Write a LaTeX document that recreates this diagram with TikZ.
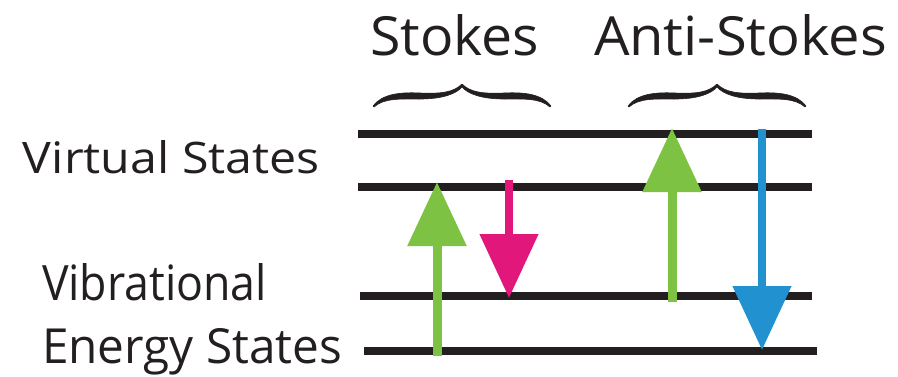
\documentclass[tikz,border=0pt]{standalone}
\usepackage{graphicx}
\usepackage{fontspec}
\setmainfont{Open Sans}
\usetikzlibrary{arrows.meta}
\definecolor{lvl}{HTML}{231F20}
\definecolor{agreen}{HTML}{7DC242}
\definecolor{amag}{HTML}{E2177C}
\definecolor{ablue}{HTML}{2291D0}
\tikzset{
  level/.style={draw=lvl, line width=8pt},
  lbl/.style={anchor=base west, inner sep=0pt, outer sep=0pt, text=lvl},
  photon/.style={line width=9pt, -{Triangle[width=57pt,length=64pt]}},
  bracefill/.style={fill=lvl, draw=lvl, line width=0.6pt, line join=round}
}
\newcommand{\fitbox}[3]{\resizebox{#1pt}{#2pt}{#3}}
\newcommand{\mybrace}[1]{%
  \filldraw[bracefill, shift={(#1,84)}]
    (-89,22) .. controls (-80,10) and (-62,8) .. (-42,9)
    .. controls (-20,10) and (-8,8) .. (0,0)
    .. controls (8,8) and (20,10) .. (42,9)
    .. controls (62,8) and (80,10) .. (89,22)
    -- (88,23)
    .. controls (78,14) and (62,15) .. (42,15)
    .. controls (20,15) and (6,10) .. (0,3)
    .. controls (-6,10) and (-20,15) .. (-42,15)
    .. controls (-62,15) and (-78,14) .. (-88,23) -- cycle;}
\begin{document}
\begin{tikzpicture}[x=1pt,y=-1pt]
\useasboundingbox (0,0) rectangle (898,376);
% labels
\node[lbl] (stokes) at (370,55) {\fitbox{169}{41}{Stokes}};
\node[lbl] (anti) at (594,55) {\fitbox{293}{41}{Anti-Stokes}};
\node[lbl] (virt) at (23,173) {\fitbox{297}{33}{Virtual States}};
\node[lbl] (vib) at (42,300) {\fitbox{225}{37}{Vibrational}};
\node[lbl] (energy) at (42,363) {\fitbox{300}{35}{Energy States}};
% braces
\mybrace{462}
\mybrace{717}
% level ends
\coordinate (v1w) at (358,134); \coordinate (v1e) at (812,134);
\coordinate (v2w) at (358,187); \coordinate (v2e) at (812,187);
\coordinate (e1w) at (360,296); \coordinate (e1e) at (812,296);
\coordinate (e0w) at (364,351); \coordinate (e0e) at (817,351);
\draw[level] (v1w) -- (v1e);
\draw[level] (v2w) -- (v2e);
\draw[level] (e1w) -- (e1e);
\draw[level] (e0w) -- (e0e);
% arrows
\coordinate (g1s) at (437,356); \coordinate (g1t) at (437,182);
\coordinate (m1s) at (509,180); \coordinate (m1t) at (509,298);
\coordinate (g2s) at (672,302); \coordinate (g2t) at (672,128);
\coordinate (b1s) at (762,129); \coordinate (b1t) at (762,350);
\draw[photon, agreen] (g1s) -- (g1t);
\draw[photon, amag, line width=8pt] (m1s) -- (m1t);
\draw[photon, agreen] (g2s) -- (g2t);
\draw[photon, ablue, line width=8pt] (b1s) -- (b1t);
\end{tikzpicture}
\end{document}
